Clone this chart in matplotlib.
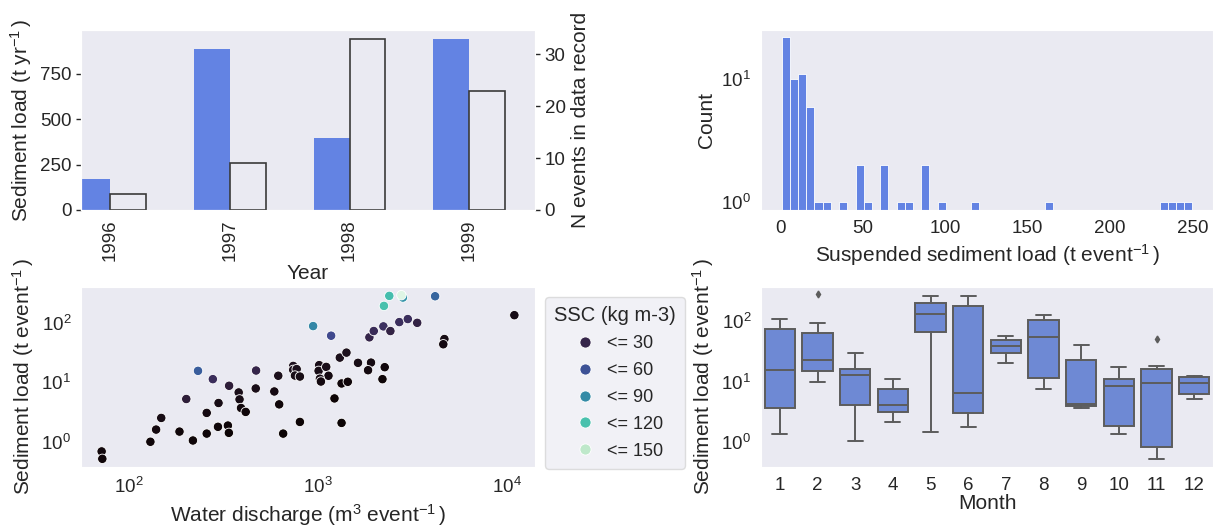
import numpy as np
import matplotlib
matplotlib.use("Agg")
import matplotlib.pyplot as plt
from matplotlib.lines import Line2D
import seaborn as sns

# Annual totals #
years = ["1996", "1997", "1998", "1999"]
annual_load = [170, 883, 397, 942]
n_events = [3, 9, 33, 23]

# Histogram of event loads (50 bins over the data range) #
hist_range = (0.45, 250.0)
hist_counts = [22, 10, 11, 6, 1, 1, 0, 1, 0, 2,
               1, 0, 2, 0, 1, 1, 0, 2, 0, 1,
               0, 0, 0, 1, 0, 0, 0, 0, 0, 0,
               0, 0, 1, 0, 0, 0, 0, 0, 0, 0,
               0, 0, 0, 0, 0, 0, 1, 1, 1, 1]

# Event data: discharge, load and SSC #
discharge = [72.2, 72.8, 130.6, 140, 149, 186, 202, 219, 233, 259,
             259, 279, 297, 299, 335, 339, 340, 382, 386, 393,
             416, 472, 470, 589, 625, 618, 656, 741, 741, 773,
             757, 804, 804, 944, 1016, 1009, 1107, 1138, 1025, 1038,
             1175, 1224, 1306, 1416, 1334, 1439, 1334, 1629, 1908, 1841,
             2254, 2193, 1871, 1973, 2218, 2415, 2233, 2383, 2811, 2760,
             2692, 2985, 3346, 4159, 4656, 4594, 10900]
load = [0.68, 0.51, 0.99, 1.59, 2.50, 1.47, 5.22, 1.04, 15.6, 3.04,
        1.36, 11.3, 1.77, 4.47, 1.86, 1.40, 8.73, 6.74, 5.14, 3.68,
        3.16, 15.8, 7.87, 7.0, 4.24, 12.9, 1.36, 18.9, 16.2, 16.7,
        13.0, 12.5, 2.14, 89, 19.5, 15.6, 18.2, 12.9, 11.5, 10.3,
        61.2, 5.34, 26.1, 31.7, 9.55, 10.2, 2.06, 21.3, 21.5, 16.0,
        18.0, 11.3, 57.5, 73.5, 88, 73.4, 195, 288, 270, 296,
        104, 117, 101, 284, 53.8, 43.9, 136]
ssc = [6, 5, 5, 7, 9, 5, 24, 4, 65, 8,
       4, 36, 4, 10, 4, 3, 24, 11, 9, 6,
       5, 30, 11, 8, 5, 12, 2, 14, 12, 12,
       10, 10, 3, 88, 11, 10, 11, 8, 8, 7,
       55, 3, 12, 13, 5, 5, 2, 9, 8, 7,
       6, 4, 30, 35, 38, 28, 120, 118, 95, 160,
       37, 37, 28, 70, 9, 8, 9]
ssc_levels = [30, 60, 90, 120, 150]

# Monthly box statistics #
months = [str(m) for m in range(1, 13)]
box_med = [15.5, 22.7, 13.0, 4.14, 132, 6.37, 39.1, 55, 4.3, 8.43, 9.33, 9.33]
box_q1 = [3.6, 15.1, 4.09, 3.13, 66.6, 2.98, 29.6, 11.4, 3.94, 1.82, 0.84, 6.3]
box_q3 = [73.8, 64.1, 16.3, 7.5, 196, 177, 48, 104, 22.4, 11.0, 16.3, 12.0]
box_lo = [1.36, 9.8, 1.05, 2.14, 1.48, 1.77, 20.2, 7.6, 3.6, 1.36, 0.52, 5.14]
box_hi = [108, 93.7, 30, 10.9, 262, 259, 57.2, 126, 40.6, 17.2, 18.0, 12.3]
box_out = [[], [276], [], [], [], [], [], [], [], [], [50.4], []]

BAR_BLUE = "#6383E3"
BOX_BLUE = "#6E89D4"
GREY = "#5c5c5c"

sns.set_style("dark")
plt.rcParams["font.family"] = ["Liberation Sans", "DejaVu Sans"]
plt.rcParams["mathtext.fontset"] = "custom"
plt.rcParams["mathtext.rm"] = "Liberation Sans"
plt.rcParams["mathtext.it"] = "Liberation Sans:italic"
plt.rcParams["mathtext.bf"] = "Liberation Sans:bold"
plt.rcParams["xtick.labelsize"] = 13.5
plt.rcParams["ytick.labelsize"] = 13.5
plt.rcParams["axes.labelsize"] = 15

W, H = 1213, 531


def rect(x0, y0, x1, y1):
    return [x0 / W, 1 - y1 / H, (x1 - x0) / W, (y1 - y0) / H]


fig = plt.figure(figsize=(W / 100, H / 100), dpi=100)

# Top left: annual load and number of events #
ax1 = fig.add_axes(rect(81, 30, 535, 210))
x = np.arange(len(years))
ax1.bar(x, annual_load, width=-0.3, align="edge", color=BAR_BLUE, edgecolor="none")
ax1.set_ylim(0, max(annual_load) * 1.05)
ax1.set_xlim(-0.245, 3.55)
ax1.set_yticks([0, 250, 500, 750])
ax1.set_xticks(x)
ax1.set_xticklabels(years, rotation=90)
ax1.set_xlabel("Year", labelpad=2)
ax1.set_ylabel("Sediment load (t yr$^{-1}\\,$)")
ax1.tick_params(axis="y", left=True, length=3.5, width=1)

ax1b = ax1.twinx()
ax1b.bar(x, n_events, width=0.3, align="edge", facecolor="none",
         edgecolor="#3a3a3a", linewidth=1.2)
ax1b.set_ylim(0, max(n_events) * 1.05)
ax1b.set_yticks([0, 10, 20, 30])
ax1b.set_ylabel("N events in data record")
ax1b.tick_params(axis="y", right=True, length=3.5, width=1)
ax1b.grid(False)

# Top right: histogram #
ax2 = fig.add_axes(rect(761, 30, 1213, 210))
edges = np.linspace(hist_range[0], hist_range[1], len(hist_counts) + 1)
ax2.bar(edges[:-1], hist_counts, width=np.diff(edges), align="edge",
        color=BAR_BLUE, edgecolor="white", linewidth=0.6)
ax2.set_yscale("log")
ax2.set_ylim(0.866, 25.2)
span = hist_range[1] - hist_range[0]
ax2.set_xlim(hist_range[0] - 0.05 * span, hist_range[1] + 0.05 * span)
ax2.set_xlabel("Suspended sediment load (t event$^{-1}\\,$)")
ax2.set_ylabel("Count")

# Bottom left: load vs discharge #
ax3 = fig.add_axes(rect(81, 287, 535, 467))
cmap = sns.color_palette("mako", as_cmap=True)
norm = plt.Normalize(min(ssc), max(ssc))
ax3.scatter(discharge, load, c=ssc, cmap=cmap, norm=norm, s=46,
            edgecolors="white", linewidths=0.6, zorder=3)
ax3.set_xscale("log")
ax3.set_yscale("log")
ax3.set_xlabel("Water discharge (m$^3$ event$^{-1}\\,$)")
ax3.set_ylabel("Sediment load (t event$^{-1}\\,$)")

handles = [Line2D([], [], marker="o", linestyle="none", markersize=8,
                  markerfacecolor=cmap(norm(v)), markeredgecolor="white",
                  markeredgewidth=0.6) for v in ssc_levels]
labels = ["<= %d" % v for v in ssc_levels]
leg = fig.legend(handles, labels, title="SSC (kg m-3)", loc="upper left",
                 bbox_to_anchor=(545 / W, 1 - 297 / H), borderaxespad=0,
                 fontsize=13, title_fontsize=14.5, frameon=True,
                 handletextpad=0.2, labelspacing=0.55, borderpad=0.5)
leg.get_frame().set_facecolor("#EEEEF4")
leg.get_frame().set_edgecolor("#d6d6d6")

# Bottom right: monthly box plot #
ax4 = fig.add_axes(rect(761, 287, 1213, 467))
stats = []
for i in range(len(months)):
    stats.append({"med": box_med[i], "q1": box_q1[i], "q3": box_q3[i],
                  "whislo": box_lo[i], "whishi": box_hi[i],
                  "fliers": box_out[i], "label": months[i]})
ax4.bxp(stats, positions=np.arange(len(months)), widths=0.8, patch_artist=True,
        boxprops=dict(facecolor=BOX_BLUE, edgecolor=GREY, linewidth=1.4),
        medianprops=dict(color=GREY, linewidth=1.4),
        whiskerprops=dict(color=GREY, linewidth=1.4),
        capprops=dict(color=GREY, linewidth=1.4),
        flierprops=dict(marker="d", markersize=3.5, markerfacecolor=GREY,
                        markeredgecolor=GREY))
ax4.set_yscale("log")
ax4.set_xlim(-0.5, len(months) - 0.5)
ax4.set_ylim(0.386, 365)
ax4.set_xlabel("Month", labelpad=0)
ax4.set_ylabel("Sediment load (t event$^{-1}\\,$)")

fig.savefig("out.png", dpi=100)
